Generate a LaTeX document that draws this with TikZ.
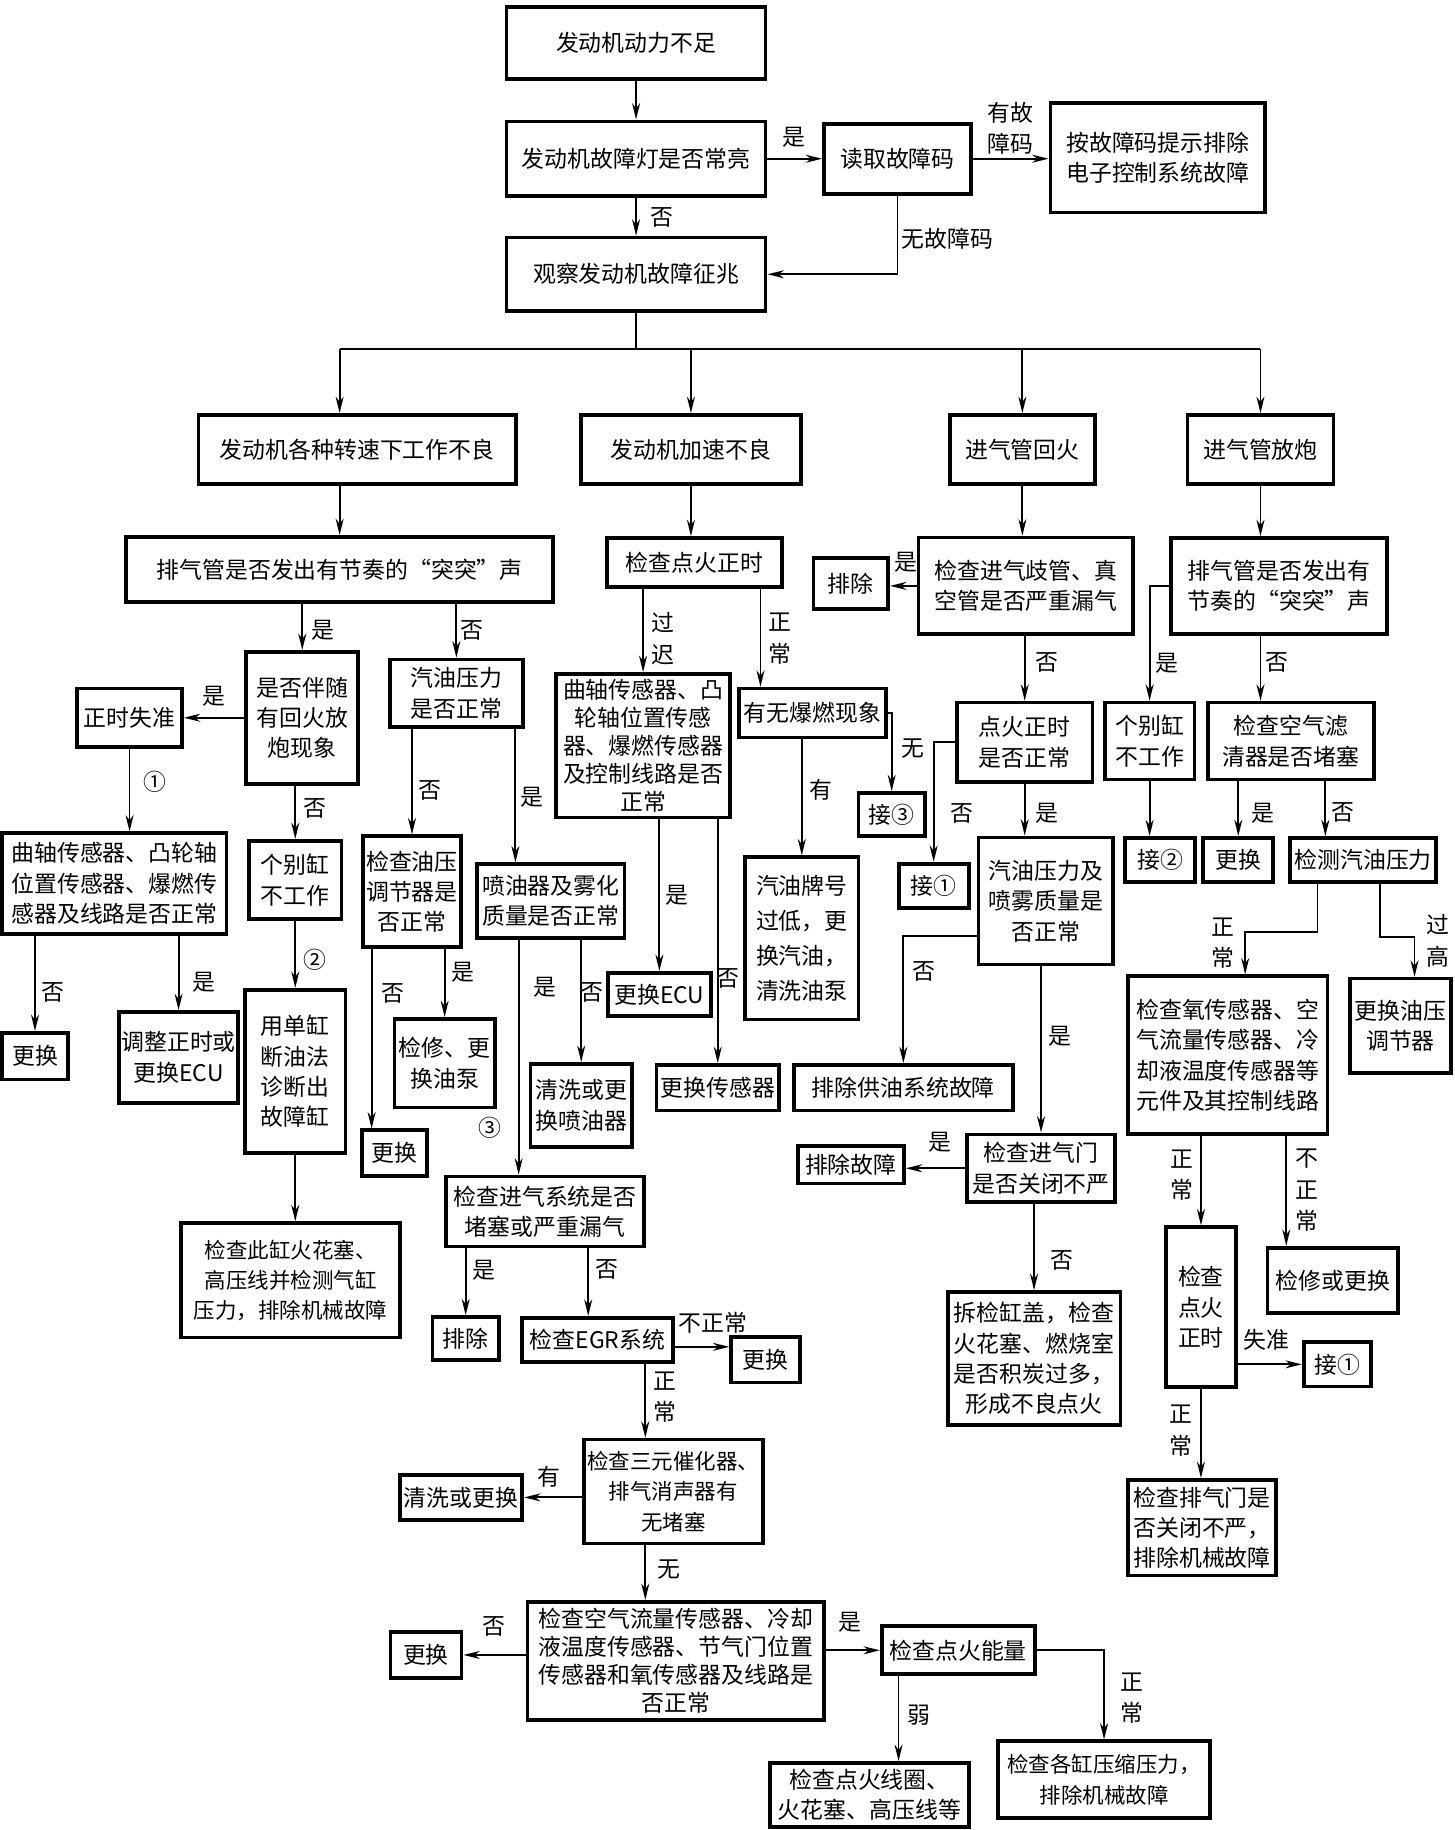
\documentclass[tikz,border=0pt]{standalone}
\usepackage{fontspec}
\newfontfamily\cjk{Noto Sans CJK SC}
\usetikzlibrary{arrows.meta,calc}
\begin{document}
\begin{tikzpicture}[x=0.5pt,y=-0.5pt,
 bx/.style={draw, line width=1.6pt, align=center, inner sep=0pt, font=\cjk\fontsize{9.8}{13}\selectfont},
 sz/.style 2 args={minimum width=#1*0.5pt, minimum height=#2*0.5pt},
 tight/.style={font=\cjk\fontsize{9.8}{12}\selectfont},
 loose/.style={font=\cjk\fontsize{9.8}{15}\selectfont},
 small/.style={font=\cjk\fontsize{9.2}{13}\selectfont},
 lb/.style={inner sep=0pt, align=center, font=\cjk\fontsize{9.8}{13.5}\selectfont},
 arr/.style={line width=0.8pt, -{Stealth[length=7pt,width=3.4pt,inset=2.2pt]}},
 ln/.style={line width=0.8pt}]
\useasboundingbox (0,0) rectangle (1246,1568);

% ---------- boxes ----------
\node[bx,sz={222}{62}] (n1) at (545,37) {发动机动力不足};
\node[bx,sz={222}{64}] (n2) at (545,136) {发动机故障灯是否常亮};
\node[bx,sz={126}{60}] (n3) at (769,136) {读取故障码};
\node[bx,sz={184}{94}] (n4) at (992,135) {按故障码提示排除\\电子控制系统故障};
\node[bx,sz={222}{63}] (n5) at (545,235) {观察发动机故障征兆};
\node[bx,sz={272}{59}] (n6) at (306,385) {发动机各种转速下工作不良};
\node[bx,sz={189}{59}] (n7) at (592,385) {发动机加速不良};
\node[bx,sz={124}{59}] (n8) at (876,385) {进气管回火};
\node[bx,sz={125}{59}] (n9) at (1080,385) {进气管放炮};
\node[bx,sz={366}{56}] (n10) at (291,488) {排气管是否发出有节奏的“突突”声};
\node[bx,sz={150}{42}] (n11) at (595,482) {检查点火正时};
\node[bx,sz={184}{83}] (n12) at (879,502) {检查进气歧管、真\\空管是否严重漏气};
\node[bx,sz={64}{44}] (n13) at (729,500) {排除};
\node[bx,sz={185}{82}] (n14) at (1096,502) {排气管是否发出有\\节奏的“突突”声};
\node[bx,sz={96}{113}] (n15) at (259,615) {是否伴随\\有回火放\\炮现象};
\node[bx,sz={114}{58}] (n16) at (391,594) {汽油压力\\是否正常};
\node[bx,sz={90}{50}] (n17) at (111,615) {正时失准};
\node[bx,sz={192}{86}] (n18) at (98,757) {曲轴传感器、凸轮轴\\位置传感器、爆燃传\\感器及线路是否正常};
\node[bx,sz={56}{40}] (n19) at (30,905) {更换};
\node[bx,sz={102}{78}] (n20) at (153,906) {调整正时或\\更换ECU};
\node[bx,sz={79}{67}] (n21) at (253,754) {个别缸\\不工作};
\node[bx,sz={86}{140}] (n22) at (253,918) {用单缸\\断油法\\诊断出\\故障缸};
\node[bx,small,sz={188}{98}] (n23) at (249,1097) {检查此缸火花塞、\\高压线并检测气缸\\压力，排除机械故障};
\node[bx,sz={84}{95}] (n24) at (353,764) {检查油压\\调节器是\\否正常};
\node[bx,sz={126}{63}] (n25) at (472,772) {喷油器及雾化\\质量是否正常};
\node[bx,sz={56}{39}] (n26) at (338,988) {更换};
\node[bx,sz={86}{76}] (n27) at (381,911) {检修、更\\换油泵};
\node[bx,sz={170}{60}] (n28) at (467,1038) {检查进气系统是否\\堵塞或严重漏气};
\node[bx,sz={87}{71}] (n29) at (498,947) {清洗或更\\换喷油器};
\node[bx,sz={57}{37}] (n30) at (399,1147) {排除};
\node[bx,sz={129}{38}] (n31) at (512,1148) {检查EGR系统};
\node[bx,sz={59}{39}] (n32) at (656,1165) {更换};
\node[bx,small,sz={153}{89}] (n33) at (577,1278) {检查三元催化器、\\排气消声器有\\无堵塞};
\node[bx,sz={105}{39}] (n34) at (395,1283) {清洗或更换};
\node[bx,tight,sz={254}{101}] (n35) at (579,1423) {检查空气流量传感器、冷却\\液温度传感器、节气门位置\\传感器和氧传感器及线路是\\否正常};
\node[bx,sz={61}{39}] (n36) at (365,1418) {更换};
\node[bx,sz={131}{41}] (n37) at (821,1414) {检查点火能量};
\node[bx,sz={170}{55}] (n38) at (745,1538) {检查点火线圈、\\火花塞、高压线等};
\node[bx,small,sz={182}{66}] (n39) at (946,1525) {检查各缸压缩压力，\\排除机械故障};
\node[bx,tight,sz={149}{123}] (n40) at (551,639) {曲轴传感器、凸\\轮轴位置传感\\器、爆燃传感器\\及控制线路是否\\正常};
\node[bx,sz={126}{42}] (n41) at (696,611) {有无爆燃现象};
\node[bx,sz={88}{37}] (n42) at (565,852) {更换ECU};
\node[bx,sz={105}{39}] (n43) at (615,932) {更换传感器};
\node[bx,loose,sz={97}{139}] (n44) at (687,804) {汽油牌号\\过低，更\\换汽油，\\清洗油泵};
\node[bx,sz={57}{37}] (n45) at (764,698) {接③};
\node[bx,sz={116}{68}] (n46) at (878,636) {点火正时\\是否正常};
\node[bx,sz={60}{38}] (n47) at (800,759) {接①};
\node[bx,sz={115}{109}] (n48) at (896,772) {汽油压力及\\喷雾质量是\\否正常};
\node[bx,sz={188}{39}] (n49) at (774,932) {排除供油系统故障};
\node[bx,sz={127}{58}] (n50) at (892,1001) {检查进气门\\是否关闭不严};
\node[bx,sz={91}{32}] (n51) at (729,998) {排除故障};
\node[bx,sz={148}{114}] (n52) at (886,1164) {拆检缸盖，检查\\火花塞、燃烧室\\是否积炭过多，\\形成不良点火};
\node[bx,sz={77}{66}] (n53) at (985,635) {个别缸\\不工作};
\node[bx,sz={142}{66}] (n54) at (1106,635) {检查空气滤\\清器是否堵塞};
\node[bx,sz={60}{38}] (n55) at (994,737) {接②};
\node[bx,sz={60}{38}] (n56) at (1061,737) {更换};
\node[bx,sz={125}{38}] (n57) at (1168,737) {检测汽油压力};
\node[bx,sz={171}{135}] (n58) at (1052,904) {检查氧传感器、空\\气流量传感器、冷\\却液温度传感器等\\元件及其控制线路};
\node[bx,sz={86}{81}] (n59) at (1200,879) {更换油压\\调节器};
\node[bx,sz={60}{137}] (n60) at (1029,1120) {检查\\点火\\正时};
\node[bx,sz={112}{56}] (n61) at (1142,1097) {检修或更换};
\node[bx,sz={58}{38}] (n62) at (1146,1169) {接①};
\node[bx,sz={127}{82}] (n63) at (1030,1309) {检查排气门是\\否关闭不严，\\排除机械故障};

% ---------- connectors ----------
\draw[arr] (n1) -- (n2);
\draw[arr] (n2) -- (n3);
\draw[arr] (n3.east) -- (n3.east -| n4.west);
\draw[arr] (n2) -- (n5);
\draw[arr] (n3.south) |- (n5.east);
\coordinate (bus) at ($(n5.south)+(0,31)$);
\draw[ln] (n5.south) -- (bus);
\draw[ln] (bus -| n10) -- (bus -| n9);
\draw[arr] (bus -| n10) -- (n6.north -| n10);
\draw[arr] (bus -| n7) -- (n7.north);
\draw[arr] (bus -| n8) -- (n8.north);
\draw[arr] (bus -| n9) -- (n9.north);

\draw[arr] (n6.south -| n10) -- (n10.north);
\draw[arr] (n7) -- (n7 |- n11.north);
\draw[arr] (n8) -- (n8 |- n12.north);
\draw[arr] (n9) -- (n9 |- n14.north);
\draw[arr] (n12.west) -- (n12.west -| n13.east);
\draw[arr] (n12.south -| n46) -- (n46.north);

\draw[arr] (n10.south -| n15) -- (n15.north);
\draw[arr] (n10.south -| n16) -- (n16.north);
\draw[arr] (n15.west |- n17) -- (n17.east);
\draw[arr] (n17) -- (n17 |- n18.north);
\draw[arr] (n18.south -| n19) -- (n19.north);
\draw[arr] (n18.south -| n20) -- (n20.north);
\draw[arr] (n15.south -| n21) -- (n21.north);
\draw[arr] (n21) -- (n22);
\draw[arr] (n22) -- (n22 |- n23.north);
\draw[arr] (n16.south -| n24) -- (n24.north);
\draw[arr] ($(n16.south east)+(-8,0)$) coordinate (t1) -- (t1 |- n25.north);
\draw[arr] ($(n24.south west)+(9,0)$) coordinate (t2) -- (t2 |- n26.north);
\draw[arr] (n24.south -| n27) -- (n27.north);
\draw[arr] ($(n25.south west)+(37,0)$) coordinate (t3) -- (t3 |- n28.north);
\draw[arr] (n25.south -| n29) -- (n29.north);

\draw[arr] (n11.south -| n40) -- (n40.north);
\draw[arr] ($(n11.south east)+(-20,0)$) coordinate (t4) -- (t4 |- n41.north);
\draw[arr] (n40.south -| n42) -- (n42.north);
\draw[arr] (n40.south -| n43) -- (n43.north);
\draw[arr] (n41.south -| n44) -- (n44.north);
\draw[arr] (n41.east) -| (n45.north);

\draw[arr] (n46.west) -| (n47.north);
\draw[arr] (n46) -- (n46 |- n48.north);
\draw[arr] ($(n48.south west)+(0,-26)$) -| (n49.north);
\draw[arr] (n48.south -| n50) -- (n50.north);
\draw[arr] (n50.west) -- (n50.west -| n51.east);
\draw[arr] (n50.south -| n52) -- (n52.north);

\draw[arr] (n14.west) -| (n53.north);
\draw[arr] (n14.south -| n9) -- (n54.north -| n9);
\draw[arr] (n53) -- (n53 |- n55.north);
\draw[arr] (n54.south -| n56) -- (n56.north);
\draw[arr] ($(n54.south east)+(-43,0)$) coordinate (t5) -- (t5 |- n57.north);
\draw[arr] ($(n57.south west)+(25,0)$) -- ++(0,41) -| ($(n58.north west)+(102,0)$);
\draw[arr] ($(n57.south east)+(-50,0)$) -- ++(0,45) -| ($(n59.north)+(12,0)$);
\draw[arr] (n58.south -| n60) -- (n60.north);
\draw[arr] ($(n58.south east)+(-37,0)$) coordinate (t6) -- (t6 |- n61.north);
\draw[arr] (n60.east |- n62) -- (n62.west);
\draw[arr] (n60) -- (n60 |- n63.north);

\draw[arr] (n28.south -| n30) -- (n30.north);
\draw[arr] ($(n28.south)+(37,0)$) coordinate (t7) -- (t7 |- n31.north);
\draw[arr] ($(n31.east)+(0,6)$) coordinate (t8) -- (t8 -| n32.west);
\draw[arr] ($(n31.south west)+(107,0)$) coordinate (t9) -- (t9 |- n33.north);
\draw[arr] (n33.west |- n34) -- (n34.east);
\draw[arr] ($(n33.south west)+(54,0)$) coordinate (t10) -- (t10 |- n35.north);
\draw[arr] (n35.west |- n36) -- (n36.east);
\draw[arr] (n35.east |- n37) -- (n37.west);
\draw[arr] ($(n37.south west)+(16,0)$) coordinate (t11) -- (t11 |- n38.north);
\draw[arr] (n37.east) -| (n39.north);

% ---------- labels ----------
\node[lb] (l1) at (680,118) {是};
\node[lb] (l2) at (866,110) {有故\\障码};
\node[lb] (l3) at (567,186) {否};
\node[lb] (l4) at (812,205) {无故障码};
\node[lb] (l5) at (776,482) {是};
\node[lb] (l6) at (897,568) {否};
\node[lb] (l7) at (277,540) {是};
\node[lb] (l8) at (404,540) {否};
\node[lb] (l9) at (183,597) {是};
\node[lb] (l10) at (133,670) {①};
\node[lb] (l11) at (45,850) {否};
\node[lb] (l12) at (175,842) {是};
\node[lb] (l13) at (270,693) {否};
\node[lb] (l14) at (270,822) {②};
\node[lb] (l15) at (368,677) {否};
\node[lb] (l16) at (456,683) {是};
\node[lb] (l17) at (337,851) {否};
\node[lb] (l18) at (397,833) {是};
\node[lb] (l19) at (467,846) {是};
\node[lb] (l20) at (420,966) {③};
\node[lb] (l21) at (507,850) {否};
\node[lb] (l22) at (568,547) {过\\迟};
\node[lb] (l23) at (668,547) {正\\常};
\node[lb] (l24) at (580,767) {是};
\node[lb] (l25) at (624,838) {否};
\node[lb] (l26) at (703,677) {有};
\node[lb] (l27) at (782,641) {无};
\node[lb] (l28) at (824,697) {否};
\node[lb] (l29) at (897,697) {是};
\node[lb] (l30) at (792,832) {否};
\node[lb] (l31) at (908,888) {是};
\node[lb] (l32) at (805,979) {是};
\node[lb] (l33) at (910,1080) {否};
\node[lb] (l34) at (1000,568) {是};
\node[lb] (l35) at (1094,568) {否};
\node[lb] (l36) at (1082,697) {是};
\node[lb] (l37) at (1151,696) {否};
\node[lb] (l38) at (1048,808) {正\\常};
\node[lb] (l39) at (1232,806) {过\\高};
\node[lb] (l40) at (1013,1007) {正\\常};
\node[lb] (l41) at (1120,1020) {不\\正\\常};
\node[lb] (l42) at (1085,1148) {失准};
\node[lb] (l43) at (1012,1226) {正\\常};
\node[lb] (l44) at (415,1088) {是};
\node[lb] (l45) at (520,1088) {否};
\node[lb] (l46) at (611,1133) {不正常};
\node[lb] (l47) at (570,1197) {正\\常};
\node[lb] (l48) at (470,1265) {有};
\node[lb] (l49) at (573,1345) {无};
\node[lb] (l50) at (423,1394) {否};
\node[lb] (l51) at (728,1390) {是};
\node[lb] (l52) at (787,1470) {弱};
\node[lb] (l53) at (970,1455) {正\\常};
\end{tikzpicture}
\end{document}
